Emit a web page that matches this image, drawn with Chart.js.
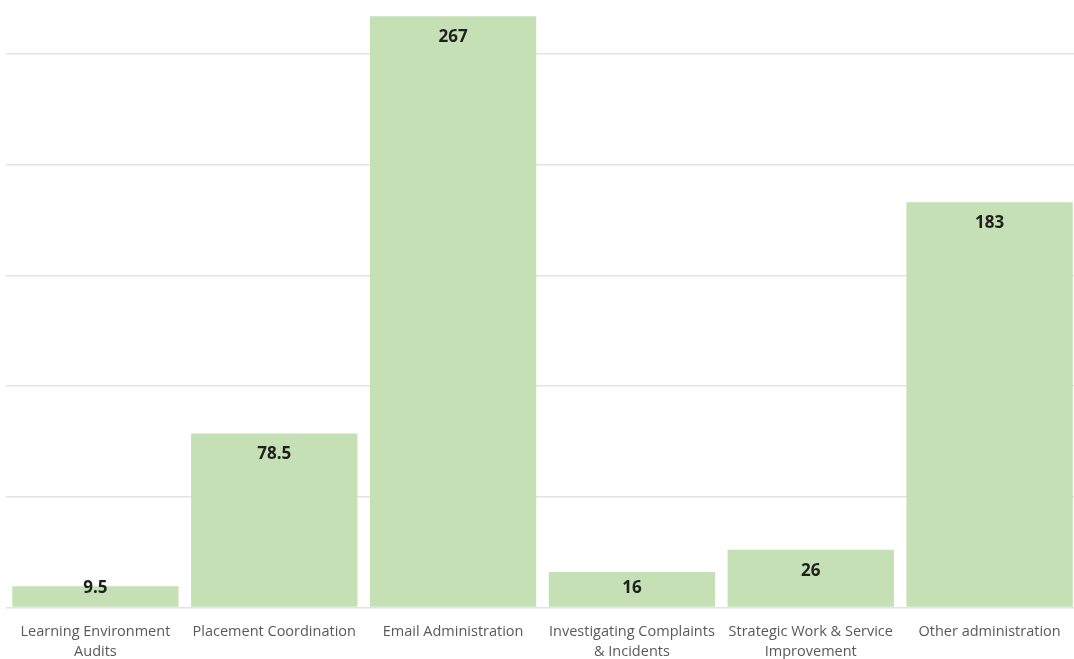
<!DOCTYPE html>
<html>
<head>
<meta charset="utf-8">
<script src="https://cdn.jsdelivr.net/npm/chart.js@4/dist/chart.umd.min.js"></script>
<style>
  html, body { margin: 0; padding: 0; background: #fff; overflow: hidden; }
  .wrap { position: relative; width: 1080px; height: 676px; }
</style>
</head>
<body>
<div class="wrap"><canvas id="chart"></canvas></div>
<script>
const categories = [
  ['Learning Environment', 'Audits'],
  'Placement Coordination',
  'Email Administration',
  ['Investigating Complaints', '& Incidents'],
  ['Strategic Work & Service', 'Improvement'],
  'Other administration'
];
const hours = [9.5, 78.5, 267, 16, 26, 183];

// labels just inside the top of each bar, kept above the baseline for short bars
const valueLabels = {
  id: 'valueLabels',
  afterDatasetsDraw(chart) {
    const ctx = chart.ctx;
    const meta = chart.getDatasetMeta(0);
    const base = chart.scales.y.getPixelForValue(0);
    ctx.save();
    ctx.font = 'bold 17px "Open Sans", sans-serif';
    ctx.fillStyle = '#1f1f1f';
    ctx.textAlign = 'center';
    ctx.textBaseline = 'middle';
    meta.data.forEach((bar, i) => {
      const y = Math.min(bar.y + 21, base - 19);
      ctx.fillText(String(hours[i]), bar.x, y);
    });
    ctx.restore();
  }
};

new Chart(document.getElementById('chart'), {
  type: 'bar',
  data: {
    labels: categories,
    datasets: [{
      data: hours,
      backgroundColor: '#c5e0b4',
      borderWidth: 0,
      barPercentage: 0.93,
      categoryPercentage: 1
    }]
  },
  options: {
    responsive: true,
    maintainAspectRatio: false,
    animation: false,
    layout: { padding: { left: 6, right: 1, top: 14, bottom: 0 } },
    plugins: {
      legend: { display: false },
      tooltip: { enabled: false }
    },
    scales: {
      x: {
        grid: { display: false, drawTicks: false },
        border: { display: false },
        ticks: {
          color: '#595959',
          font: { family: '"Open Sans", sans-serif', size: 14.5, lineHeight: 1.4 },
          padding: 14,
          autoSkip: false,
          maxRotation: 0
        }
      },
      y: {
        min: 0,
        max: 268,
        ticks: { display: false, stepSize: 50 },
        grid: {
          color: c => (c.tick && c.tick.value % 50 === 0) ? '#e3e3e3' : 'rgba(0,0,0,0)',
          lineWidth: 1.5,
          drawTicks: false
        },
        border: { display: false }
      }
    }
  },
  plugins: [valueLabels]
});
</script>
</body>
</html>
